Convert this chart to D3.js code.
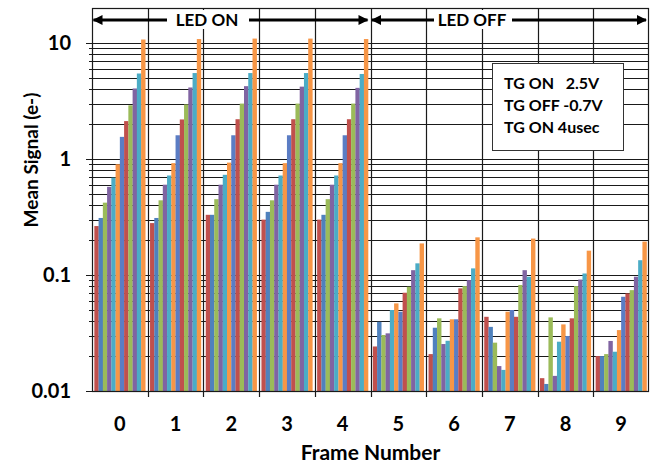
<!DOCTYPE html>
<html>
<head>
<meta charset="utf-8">
<script src="https://cdn.jsdelivr.net/npm/d3@7"></script>
<style>
  body { margin: 0; background: #fff; }
  svg { display: block; font-family: Lato, "Open Sans", sans-serif; }
</style>
</head>
<body>
<div id="chart"></div>
<script>
// Frame numbers on the x axis
const frames = ["0", "1", "2", "3", "4", "5", "6", "7", "8", "9"];

// 12 bars per frame (log scale)
const frame0 = [0.264, 0.31, 0.42, 0.575, 0.69, 0.90, 1.55, 2.12, 2.9, 4.05, 5.45, 10.7];
const frame1 = [0.28, 0.31, 0.44, 0.60, 0.72, 0.92, 1.60, 2.19, 2.95, 4.13, 5.5, 10.8];
const frame2 = [0.33, 0.33, 0.45, 0.60, 0.73, 0.93, 1.60, 2.2, 3.0, 4.24, 5.5, 10.9];
const frame3 = [0.30, 0.35, 0.44, 0.60, 0.72, 0.92, 1.60, 2.2, 3.0, 4.2, 5.5, 10.9];
const frame4 = [0.30, 0.33, 0.45, 0.60, 0.72, 0.92, 1.60, 2.2, 3.0, 4.1, 5.4, 10.8];
const frame5 = [0.0242, 0.0395, 0.0304, 0.0314, 0.0499, 0.0569, 0.0482, 0.0703, 0.0792, 0.110, 0.126, 0.187];
const frame6 = [0.0208, 0.0351, 0.0423, 0.0254, 0.0271, 0.0415, 0.0415, 0.0767, 0.0802, 0.0904, 0.114, 0.211];
const frame7 = [0.0436, 0.0357, 0.0261, 0.0164, 0.0152, 0.0482, 0.0499, 0.0436, 0.082, 0.110, 0.0966, 0.206];
const frame8 = [0.0129, 0.0115, 0.0431, 0.0135, 0.0266, 0.0375, 0.0298, 0.0423, 0.0802, 0.0913, 0.103, 0.162];
const frame9 = [0.020, 0.020, 0.0208, 0.0270, 0.0218, 0.0335, 0.0649, 0.0694, 0.0740, 0.0966, 0.134, 0.194];
const frameValues = [frame0, frame1, frame2, frame3, frame4, frame5, frame6, frame7, frame8, frame9];

// series colours (Office palette, as in the picture)
const seriesColors = ["#C0504D", "#4F81BD", "#9BBB59", "#8064A2", "#4BACC6", "#F79646",
                      "#5B7DC4", "#C0504D", "#9BBB59", "#8064A2", "#4BACC6", "#F79646"];

const yTickValues = [0.01, 0.1, 1, 10];
const yTickLabels = ["0.01", "0.1", "1", "10"];
const noteLines = ["TG ON   2.5V", "TG OFF -0.7V", "TG ON 4usec"];

const width = 658;
const height = 464;
const margin = {left: 92, right: 9, top: 8, bottom: 73};

const svg = d3.select("#chart")
    .append("svg")
    .attr("width", width)
    .attr("height", height);

const x0 = d3.scaleBand()
    .domain(frames)
    .range([margin.left, width - margin.right])
    .padding(0);

const x1 = d3.scaleBand()
    .domain(d3.range(12))
    .range([0, x0.bandwidth()])
    .paddingInner(0)
    .paddingOuter(0.55);

const y = d3.scaleLog()
    .domain([0.01, 20])
    .range([height - margin.bottom, margin.top]);

const plotTop = margin.top;
const plotBottom = height - margin.bottom;
const plotLeft = margin.left;
const plotRight = width - margin.right;

// horizontal grid lines: every 1..9 x 10^k up to 10
const gridValues = [];
[0.01, 0.1, 1].forEach(base => {
    for (let m = 1; m <= 9; m++) gridValues.push(+(base * m).toPrecision(3));
});
gridValues.push(10);

svg.append("g")
    .selectAll("line")
    .data(gridValues)
    .enter()
    .append("line")
    .attr("x1", plotLeft - 3)
    .attr("x2", plotRight)
    .attr("y1", d => Math.round(y(d)) + 0.5)
    .attr("y2", d => Math.round(y(d)) + 0.5)
    .attr("stroke", "#1a1a1a")
    .attr("stroke-width", 1.2);

// vertical lines between frames
svg.append("g")
    .selectAll("line")
    .data(frames.slice(1))
    .enter()
    .append("line")
    .attr("x1", d => Math.round(x0(d)) + 0.5)
    .attr("x2", d => Math.round(x0(d)) + 0.5)
    .attr("y1", plotTop)
    .attr("y2", plotBottom + 6)
    .attr("stroke", "#1a1a1a")
    .attr("stroke-width", 1.2);

// bars
const groups = svg.append("g")
    .selectAll("g")
    .data(frames)
    .enter()
    .append("g")
    .attr("transform", d => `translate(${x0(d)},0)`);

groups.selectAll("rect")
    .data((d, i) => frameValues[i].map((v, j) => ({series: j, value: v})))
    .enter()
    .append("rect")
    .attr("x", d => x1(d.series))
    .attr("width", x1.bandwidth() + 0.15)
    .attr("y", d => y(d.value))
    .attr("height", d => y(0.01) - y(d.value))
    .attr("fill", d => seriesColors[d.series]);

// plot frame
svg.append("rect")
    .attr("x", plotLeft + 0.5)
    .attr("y", plotTop + 0.5)
    .attr("width", plotRight - plotLeft - 1)
    .attr("height", plotBottom - plotTop)
    .attr("fill", "none")
    .attr("stroke", "#1a1a1a")
    .attr("stroke-width", 1.2);

// y axis major ticks and labels
svg.append("g")
    .selectAll("line")
    .data(yTickValues)
    .enter()
    .append("line")
    .attr("x1", plotLeft - 6)
    .attr("x2", plotLeft)
    .attr("y1", d => Math.round(y(d)) + 0.5)
    .attr("y2", d => Math.round(y(d)) + 0.5)
    .attr("stroke", "#1a1a1a");

svg.append("g")
    .selectAll("text")
    .data(yTickValues)
    .enter()
    .append("text")
    .attr("x", 71)
    .attr("y", d => y(d))
    .attr("dy", "0.36em")
    .attr("text-anchor", "end")
    .style("font-size", "20px")
    .style("font-weight", "bold")
    .text((d, i) => yTickLabels[i]);

// x axis tick labels
svg.append("g")
    .selectAll("text")
    .data(frames)
    .enter()
    .append("text")
    .attr("x", d => x0(d) + x0.bandwidth() / 2)
    .attr("y", 424)
    .attr("dy", "0.36em")
    .attr("text-anchor", "middle")
    .style("font-size", "20px")
    .style("font-weight", "bold")
    .text(d => d);

// axis titles
svg.append("text")
    .attr("x", (plotLeft + plotRight) / 2)
    .attr("y", 452)
    .attr("dy", "0.36em")
    .attr("text-anchor", "middle")
    .style("font-size", "21px")
    .style("font-weight", "bold")
    .text("Frame Number");

svg.append("text")
    .attr("transform", "translate(31,160) rotate(-90)")
    .attr("dy", "0.36em")
    .attr("text-anchor", "middle")
    .style("font-size", "19px")
    .style("font-weight", "bold")
    .text("Mean Signal (e-)");

// LED ON / LED OFF arrows
const ledSpans = [
    {label: "LED ON", from: frames[0], to: frames[4], textX: 207, gapL: 167, gapR: 249},
    {label: "LED OFF", from: frames[5], to: frames[9], textX: 472, gapL: 434, gapR: 512}
];

svg.append("defs").append("marker")
    .attr("id", "arrowhead")
    .attr("viewBox", "0 0 10 10")
    .attr("refX", 9)
    .attr("refY", 5)
    .attr("markerUnits", "userSpaceOnUse")
    .attr("markerWidth", 12)
    .attr("markerHeight", 10)
    .attr("orient", "auto")
    .append("path")
    .attr("d", "M0,0 L10,5 L0,10 Z")
    .attr("fill", "#000");

const arrowY = 20;
ledSpans.forEach(s => {
    const left = x0(s.from) + 1.5;
    const right = x0(s.to) + x0.bandwidth() - 3;
    // white box behind the label hides the grid line
    svg.append("rect")
        .attr("x", s.gapL + 2)
        .attr("y", arrowY - 10)
        .attr("width", s.gapR - s.gapL - 4)
        .attr("height", 19)
        .attr("fill", "#fff");
    svg.append("line")
        .attr("x1", s.gapL).attr("x2", left)
        .attr("y1", arrowY).attr("y2", arrowY)
        .attr("stroke", "#000").attr("stroke-width", 3)
        .attr("marker-end", "url(#arrowhead)");
    svg.append("line")
        .attr("x1", s.gapR).attr("x2", right)
        .attr("y1", arrowY).attr("y2", arrowY)
        .attr("stroke", "#000").attr("stroke-width", 3)
        .attr("marker-end", "url(#arrowhead)");
    svg.append("text")
        .attr("x", s.textX)
        .attr("y", arrowY)
        .attr("dy", "0.36em")
        .attr("text-anchor", "middle")
        .style("font-size", "17px")
        .style("font-weight", "bold")
        .text(s.label);
});

// note box
svg.append("rect")
    .attr("x", 492.5)
    .attr("y", 63.5)
    .attr("width", 131)
    .attr("height", 87)
    .attr("fill", "#fff")
    .attr("stroke", "#333")
    .attr("stroke-width", 1);

svg.append("g")
    .selectAll("text")
    .data(noteLines)
    .enter()
    .append("text")
    .attr("x", 504)
    .attr("y", (d, i) => 83 + i * 22.3)
    .attr("dy", "0.36em")
    .style("font-size", "16px")
    .style("font-weight", "bold")
    .style("white-space", "pre")
    .text(d => d);
</script>
</body>
</html>
